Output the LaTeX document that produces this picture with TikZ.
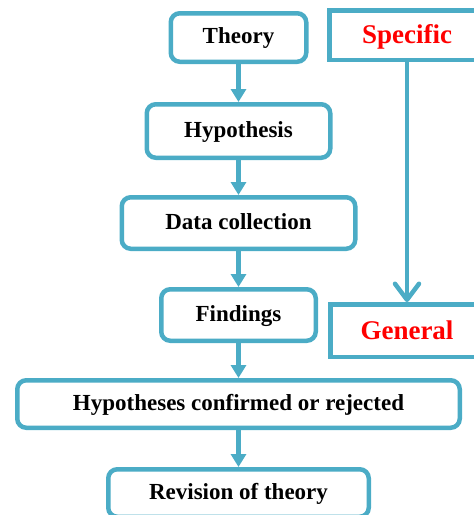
\documentclass[tikz,border=0pt]{standalone}
\usepackage{fontspec}
\setmainfont{Liberation Serif}
\usetikzlibrary{arrows.meta}
\definecolor{aqua}{HTML}{4BACC6}
\begin{document}
\begin{tikzpicture}[x=1pt,y=-1pt,
  stepbox/.style={draw=aqua,line width=4.5pt,rounded corners=9pt,fill=white,
    inner sep=0pt,text height=16pt,text depth=3.5pt,
    font=\fontsize{23}{27}\selectfont\bfseries},
  trendbox/.style={draw=aqua,line width=4.5pt,fill=white,inner sep=0pt,
    text height=19pt,text depth=1.5pt,text=red,
    font=\fontsize{27}{32}\selectfont\bfseries},
  flow/.style={draw=aqua,line width=4.5pt,-{Triangle[length=13pt,width=15pt]}},
  trend/.style={draw=aqua,line width=4.5pt,-{Straight Barb[length=16pt,width=24pt,round]}}
]
\useasboundingbox (0,0) rectangle (474,515);
\clip (0,0) rectangle (474,515);

% research process, top to bottom
\node[stepbox,minimum width=135.5pt,minimum height=48.5pt] (theory) at (238.5,37.5) {Theory};
\node[stepbox,minimum width=183.5pt,minimum height=53.5pt] (hyp)    at (238.5,131)  {Hypothesis};
\node[stepbox,minimum width=233.5pt,minimum height=51.5pt] (data)   at (238.5,223)  {Data collection};
\node[stepbox,minimum width=154.5pt,minimum height=51.5pt] (find)   at (238.5,315)  {Findings};
\node[stepbox,minimum width=442.5pt,minimum height=47.5pt] (conf)   at (238.5,404)  {Hypotheses confirmed or rejected};
\node[stepbox,minimum width=260.5pt,minimum height=47.5pt] (rev)    at (238.5,493)  {Revision of theory};

% direction of reasoning
\node[trendbox,minimum width=155.5pt,minimum height=49.5pt] (spec) at (407,35)    {Specific};
\node[trendbox,minimum width=153.5pt,minimum height=52.5pt] (gen)  at (407,330.5) {General};

\draw[flow] (theory) -- (hyp);
\draw[flow] (hyp) -- (data);
\draw[flow] (data) -- (find);
\draw[flow] (find) -- (conf);
\draw[flow] (conf) -- (rev);
\draw[trend] (spec) -- (gen);
\end{tikzpicture}
\end{document}
